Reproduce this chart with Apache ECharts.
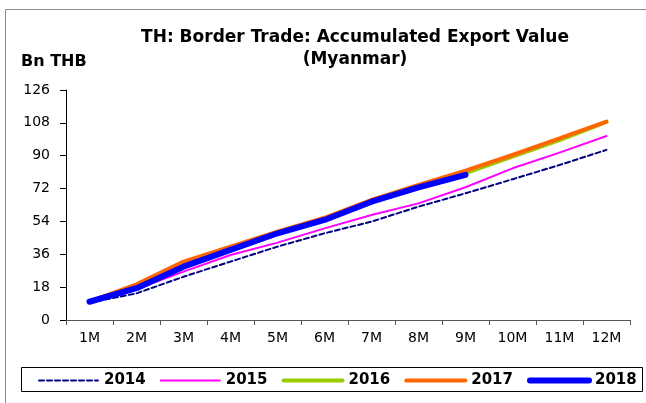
<!DOCTYPE html>
<html>
<head>
<meta charset="utf-8">
<script src="https://cdn.jsdelivr.net/npm/echarts@6/dist/echarts.min.js"></script>
<style>
  html, body { margin: 0; padding: 0; background: #ffffff; }
  #chart { width: 646px; height: 403px; }
</style>
</head>
<body>
<div id="chart"></div>
<script>
// Month categories and y-axis ticks
const months = ['1M', '2M', '3M', '4M', '5M', '6M', '7M', '8M', '9M', '10M', '11M', '12M'];
const yMin = 0;
const yMax = 126;
const yStep = 18;

// Accumulated export value to Myanmar, Bn THB
const v2014 = [9.5, 14.6, 23.7, 32.0, 40.2, 47.5, 53.9, 62.1, 69.4, 77.1, 84.9, 93.2];
const v2015 = [10.0, 17.0, 26.5, 35.6, 42.4, 50.2, 57.5, 63.9, 72.7, 83.1, 91.7, 100.8];
const v2016 = [10.0, 19.0, 30.0, 38.5, 47.5, 55.3, 64.5, 72.5, 80.5, 89.5, 98.6, 108.5];
const v2017 = [10.0, 19.5, 32.0, 40.2, 48.4, 56.0, 65.8, 74.0, 81.8, 90.4, 99.5, 108.7];
const v2018 = [10.0, 17.4, 29.2, 38.4, 47.5, 54.8, 64.8, 72.7, 79.5];

const FONT = '"DejaVu Sans", "Liberation Sans", Arial, sans-serif';

const styles = {
  '2014': { color: '#000080', width: 2, type: [5, 3] },
  '2015': { color: '#FF00FF', width: 2, type: 'solid' },
  '2016': { color: '#99CC00', width: 4, type: 'solid' },
  '2017': { color: '#FF6600', width: 4, type: 'solid' },
  '2018': { color: '#0000FF', width: 6, type: 'solid' }
};

function lineSeries(name, data) {
  const s = styles[name];
  return {
    name: name,
    type: 'line',
    data: data,
    symbol: 'none',
    smooth: false,
    animation: false,
    lineStyle: { color: s.color, width: s.width, type: s.type, cap: 'round', join: 'round' },
    itemStyle: { color: s.color }
  };
}

function legendItem(name) {
  const s = styles[name];
  return {
    name: name,
    itemStyle: { opacity: 0 },
    lineStyle: { color: s.color, width: s.width, type: s.type, cap: 'round' }
  };
}

const chart = echarts.init(document.getElementById('chart'), null, { renderer: 'canvas' });

chart.setOption({
  backgroundColor: '#ffffff',
  animation: false,
  title: {
    text: 'TH: Border Trade: Accumulated Export Value\n(Myanmar)',
    left: 350,
    top: 22,
    textAlign: 'center',
    textStyle: { fontFamily: FONT, fontSize: 17, fontWeight: 'bold', color: '#000', lineHeight: 22 }
  },
  graphic: [
    {
      type: 'rect',
      shape: { x: 5.5, y: 9.5, width: 700, height: 450 },
      style: { fill: 'none', stroke: '#8a8a8a', lineWidth: 1 },
      silent: true, z: -1
    },
    {
      type: 'text',
      left: 21, top: 54,
      style: { text: 'Bn THB', font: 'bold 16px ' + FONT, fill: '#000' },
      silent: true
    },
    {
      type: 'rect',
      shape: { x: 21.5, y: 367.5, width: 621, height: 24 },
      style: { fill: '#fff', stroke: '#000', lineWidth: 1 },
      silent: true, z: 0
    }
  ],
  legend: {
    left: 38,
    top: 373,
    width: 620,
    padding: 0,
    itemWidth: 59,
    itemHeight: 14,
    itemGap: 14,
    z: 5,
    textStyle: { fontFamily: FONT, fontSize: 15, fontWeight: 'bold', color: '#000', padding: [0, 0, 0, 1] },
    data: ['2014', '2015', '2016', '2017', '2018'].map(legendItem)
  },
  grid: { left: 66, right: 16, top: 90, bottom: 83, containLabel: false },
  xAxis: {
    type: 'category',
    data: months,
    boundaryGap: true,
    axisLine: { lineStyle: { color: '#555', width: 1 } },
    axisTick: { show: true, length: 5, lineStyle: { color: '#555' } },
    axisLabel: { fontFamily: FONT, fontSize: 14, color: '#000', margin: 11 },
    splitLine: { show: false }
  },
  yAxis: {
    type: 'value',
    min: yMin,
    max: yMax,
    interval: yStep,
    axisLine: { show: true, lineStyle: { color: '#000', width: 1 } },
    axisTick: { show: true, length: 6, lineStyle: { color: '#000' } },
    axisLabel: { fontFamily: FONT, fontSize: 14, color: '#000', margin: 16 },
    splitLine: { show: false }
  },
  series: ['2014', '2015', '2016', '2017', '2018'].map(function (n, i) {
    return lineSeries(n, [v2014, v2015, v2016, v2017, v2018][i]);
  })
});
</script>
</body>
</html>
